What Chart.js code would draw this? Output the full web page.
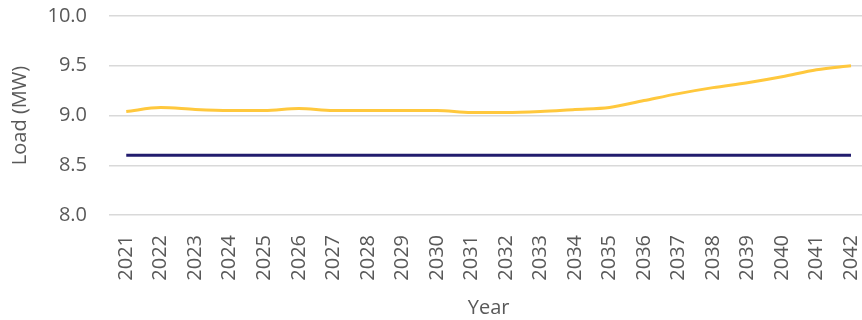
<!DOCTYPE html>
<html>
<head>
<meta charset="utf-8">
<script src="https://cdn.jsdelivr.net/npm/chart.js@4/dist/chart.umd.min.js"></script>
<style>
  html, body { margin: 0; padding: 0; background: #fff; overflow: hidden; }
  #wrap { width: 887px; height: 338px; margin-top: -18px; }
</style>
</head>
<body>
<div id="wrap"><canvas id="chart" width="887" height="338"></canvas></div>
<script>
const years = ['2021', '2022', '2023', '2024', '2025', '2026', '2027', '2028', '2029', '2030', '2031',
               '2032', '2033', '2034', '2035', '2036', '2037', '2038', '2039', '2040', '2041', '2042'];
const forecastLoad = [9.04, 9.08, 9.06, 9.05, 9.05, 9.07, 9.05, 9.05, 9.05, 9.05, 9.03,
                      9.03, 9.04, 9.06, 9.08, 9.15, 9.22, 9.28, 9.33, 9.39, 9.46, 9.50];
const capacity = years.map(() => 8.6);

const textColor = '#595959';
const font = { family: '"Open Sans", sans-serif', size: 20 };

new Chart(document.getElementById('chart'), {
    type: 'line',
    data: {
        labels: years,
        datasets: [
            {
                label: 'Load',
                data: forecastLoad,
                borderColor: '#ffc83d',
                borderWidth: 3,
                pointRadius: 0,
                tension: 0.3,
                cubicInterpolationMode: 'monotone'
            },
            {
                label: 'Capacity',
                data: capacity,
                borderColor: '#221c6e',
                borderWidth: 3,
                pointRadius: 0
            }
        ]
    },
    options: {
        responsive: false,
        animation: false,
        layout: { padding: { top: 0, right: 0, left: 8, bottom: 0 } },
        plugins: {
            legend: { display: false },
            tooltip: { enabled: false }
        },
        scales: {
            x: {
                offset: true,
                grid: { display: false },
                border: { display: false },
                ticks: { color: textColor, font: font, maxRotation: 90, minRotation: 90, padding: 12 },
                title: { display: true, text: 'Year', color: textColor, font: font, padding: { top: 2, bottom: 0 } },
                afterFit(scale) { scale.height = 105; }
            },
            y: {
                min: 8,
                max: 10,
                grid: { color: '#d9d9d9', lineWidth: 1.5, drawTicks: false },
                border: { display: false },
                ticks: {
                    stepSize: 0.5,
                    color: textColor,
                    font: font,
                    padding: 22,
                    callback: v => v.toFixed(1)
                },
                title: { display: true, text: 'Load (MW)', color: textColor, font: font, padding: 0 },
                afterFit(scale) { scale.width = 101; }
            }
        }
    }
});
</script>
</body>
</html>
